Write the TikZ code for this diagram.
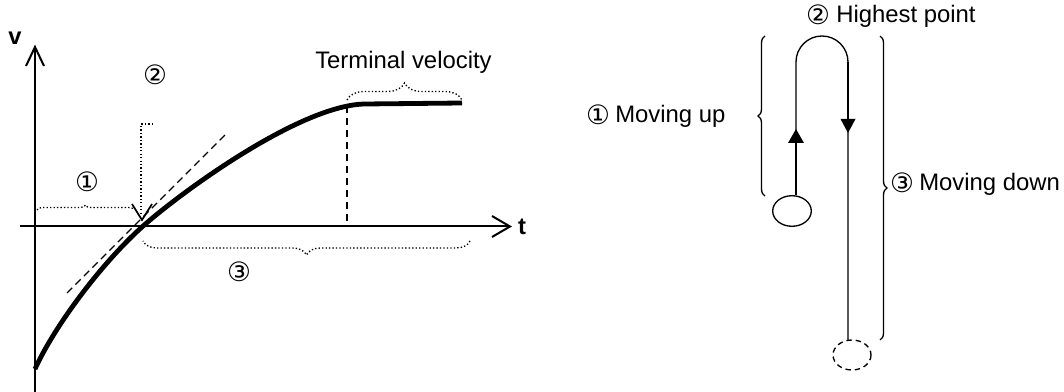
\documentclass[tikz,border=0pt]{standalone}
\usepackage{fontspec}
\setmainfont{Liberation Sans}
\newfontfamily\circfont{DejaVu Sans}
\usetikzlibrary{decorations.pathreplacing}
\begin{document}
\begin{tikzpicture}[x=0.75pt,y=-0.75pt,
  txt/.style={font=\fontsize{17.9pt}{20pt}\selectfont, inner sep=0pt, anchor=base west},
  bold/.style={font=\fontsize{17.8pt}{20pt}\selectfont\bfseries, inner sep=0pt},
  circ/.style={font=\circfont\fontsize{20pt}{22pt}\selectfont, inner sep=0pt},
  axisl/.style={line width=1.5pt},
  curvel/.style={line width=3.6pt},
  dotl/.style={line width=1pt, dash pattern=on 1pt off 1.6pt},
  dashl/.style={line width=1pt, dash pattern=on 5.5pt off 3.5pt},
  thinl/.style={line width=1pt},
  thickl/.style={line width=1.8pt},
  bracel/.style={decorate, decoration={brace, amplitude=#1}},
]
\useasboundingbox (0,0) rectangle (1064,392);
% ---------- left graph ----------
% axes
\draw[axisl] (35,392) -- (35,47);
\draw[axisl] (26,66) -- (35,47) -- (44,66);
\draw[axisl] (20,226.5) -- (510,226.5);
\draw[axisl] (492,216) -- (510,226.5) -- (492,237);
\node[bold] (vlab) at (15,38.5) {v};
\node[bold] (tlab) at (522,226.5) {t};
% tangent
\draw[dashl] (67,293) -- (225,135);
% terminal vertical
\draw[dashl] (347,106) -- (347,226.5);
% curve
\draw[curvel] (35,369) .. controls (55,325) and (102,263) .. (142,227)
  .. controls (180,193) and (300,105) .. (365,104) -- (462,103);
% braces
\draw[dotl, bracel=5*0.75pt] (37,210) -- (134,210);
\draw[dotl, bracel=17*0.75pt] (347,100) -- (462,100);
\draw[dotl, bracel=14*0.75pt] (470,241) -- (143,241);
% dotted bracket 2 with arrow
\draw[dotl] (153,124) -- (141,124) -- (141,216);
\draw[line width=1.3pt] (132,204) -- (142,220) -- (152,204);
% labels
\node[circ] (c1) at (87,182) {①};
\node[circ] (c2) at (155,75) {②};
\node[circ] (c3) at (239,272) {③};
\node[txt] (term) at (315,69) {Terminal velocity};
% ---------- right diagram ----------
% braces
\draw[thinl, bracel=7*0.75pt] (765,196) -- (765,36);
\draw[thinl, bracel=7*0.75pt] (880,36) -- (880,340);
% path
\draw[thinl] (796,195) -- (796,62) arc[start angle=180, end angle=360, x radius=26, y radius=26] -- (848,340);
\draw[thickl] (796,195) -- (796,140);
\fill (796,129) -- (788,143) -- (804,143) -- cycle;
\draw[thickl] (848,62) -- (848,122);
\fill (848,133) -- (840.5,119) -- (855.5,119) -- cycle;
% balls
\draw[thinl] (792,211) ellipse[x radius=19.3, y radius=15.3];
\draw[thinl, dash pattern=on 4pt off 3pt] (852,355) ellipse[x radius=19, y radius=15];
% labels
\node[circ] (r1) at (598,115) {①};
\node[txt] (up) at (615,123) {Moving up};
\node[circ] (r2) at (818,15) {②};
\node[txt] (hp) at (836,23) {Highest point};
\node[circ] (r3) at (902,183) {③};
\node[txt] (down) at (919,191) {Moving down};
\end{tikzpicture}
\end{document}
